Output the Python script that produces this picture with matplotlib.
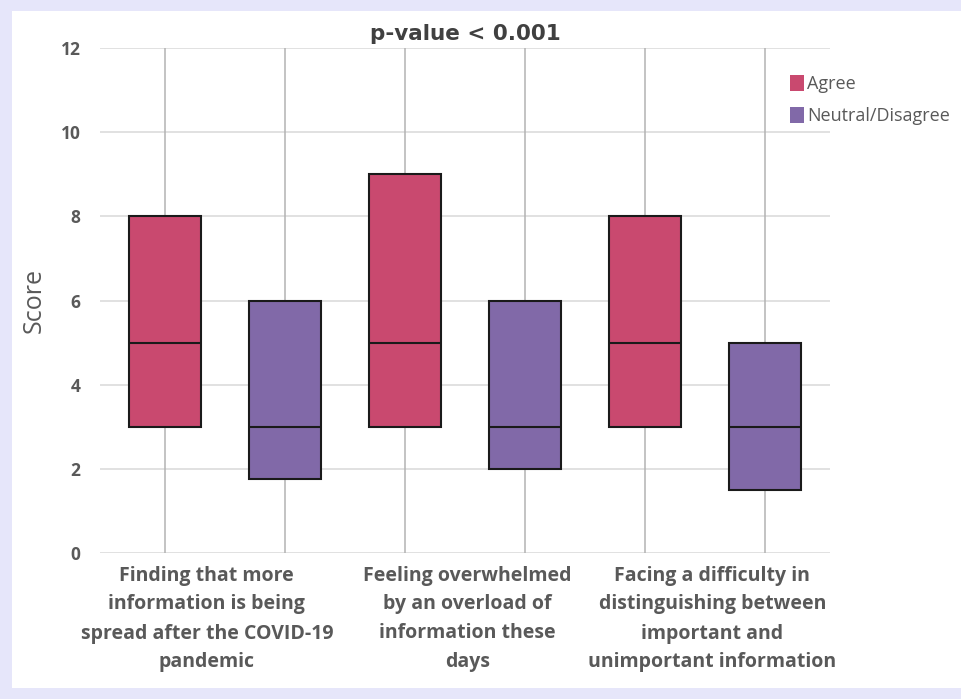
import matplotlib
matplotlib.use("Agg")
import matplotlib.pyplot as plt
from matplotlib.patches import Rectangle, Patch

categories = [
    "Finding that more\ninformation is being\nspread after the COVID-19\npandemic",
    "Feeling overwhelmed\nby an overload of\ninformation these\ndays",
    "Facing a difficulty in\ndistinguishing between\nimportant and\nunimportant information",
]
series = ["Agree", "Neutral/Disagree"]
whisker_low = [0, 0, 0]
whisker_high = [12, 12, 12]
agree_q1 = [3, 3, 3]
agree_med = [5, 5, 5]
agree_q3 = [8, 9, 8]
neutral_q1 = [1.75, 2, 1.5]
neutral_med = [3, 3, 3]
neutral_q3 = [6, 6, 5]
colors = ["#c9496f", "#8169a8"]

plt.rcParams['font.family'] = ['Liberation Sans Narrow', 'Open Sans', 'DejaVu Sans']

fig = plt.figure(figsize=(9.61, 6.99), dpi=100)
fig.patch.set_facecolor("#e6e6fa")
bg = Rectangle((12/961, 11/699), 1 - 12/961, (688-11)/699,
               transform=fig.transFigure, facecolor="white",
               edgecolor="none", zorder=-10)
fig.patches.append(bg)

ax = fig.add_axes([100/961, (699-553)/699, 730/961, 505/699])
ax.set_facecolor("none")

stats = []
pos = []
cols = []
for i in range(len(categories)):
    stats.append(dict(whislo=whisker_low[i], q1=agree_q1[i], med=agree_med[i],
                      q3=agree_q3[i], whishi=whisker_high[i], fliers=[]))
    stats.append(dict(whislo=whisker_low[i], q1=neutral_q1[i], med=neutral_med[i],
                      q3=neutral_q3[i], whishi=whisker_high[i], fliers=[]))
    pos += [2*i + 1, 2*i + 2]
    cols += colors

bp = ax.bxp(stats, positions=pos, widths=0.6, patch_artist=True, showcaps=False,
            boxprops=dict(edgecolor="#1a1a1a", linewidth=1.5),
            medianprops=dict(color="#1a1a1a", linewidth=1.5),
            whiskerprops=dict(color="#b3b3b3", linewidth=1.1))
for b, c in zip(bp["boxes"], cols):
    b.set_facecolor(c)
    b.set_zorder(3)
for m in bp["medians"]:
    m.set_zorder(4)

ax.set_xlim(0.46, 6.54)
ax.set_ylim(0, 12)
ax.set_yticks(range(0, 13, 2))
ax.yaxis.grid(True, color="#dcdcdc", linewidth=1.2)
ax.set_axisbelow(True)
for s in ax.spines.values():
    s.set_visible(False)
ax.tick_params(axis="y", length=0, pad=14, labelsize=12.5, labelcolor="#595959")
for t in ax.get_yticklabels():
    t.set_fontweight("bold")

label_pos = [1.35, 3.52, 5.56]
ax.set_xticks(label_pos)
ax.set_xticklabels(categories, fontsize=14, fontweight="bold", color="#595959",
                   linespacing=1.6)
ax.tick_params(axis="x", length=0, pad=9)

ax.set_ylabel("Score", fontsize=18, color="#595959", family=['Open Sans', 'DejaVu Sans'], labelpad=10)
ax.set_title("p-value < 0.001", fontsize=15.5, fontweight="bold", color="#404040",
             family=['DejaVu Sans'], pad=6)

handles = [Patch(facecolor=c, edgecolor="none") for c in colors]
fig.legend(handles, series, loc="upper left", bbox_to_anchor=(790/961, 1 - 75/699),
           frameon=False, handlelength=0.8, handleheight=1.0,
           handletextpad=0.15, labelspacing=0.75, labelcolor="#595959",
           prop=dict(family=['Open Sans', 'DejaVu Sans'], size=13),
           borderpad=0, borderaxespad=0)

fig.savefig("out.png", dpi=100, facecolor=fig.get_facecolor())
